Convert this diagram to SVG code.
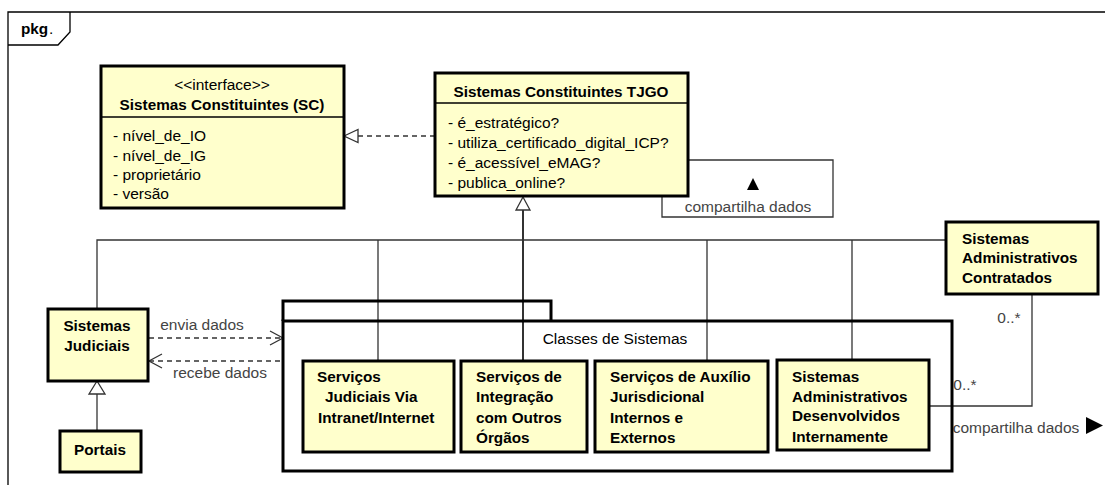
<svg xmlns="http://www.w3.org/2000/svg" width="1105" height="485" viewBox="0 0 1105 485">
<style>
text{font-family:"Liberation Sans",Arial,sans-serif;font-size:15.5px;fill:#000}
.b{font-weight:bold;font-size:15.3px}
.lbl{fill:#444}
.box{fill:#FFFFCC;stroke:#000;stroke-width:3}
.ln{fill:none;stroke:#333;stroke-width:1.3}
.dash{fill:none;stroke:#333;stroke-width:1.3;stroke-dasharray:5,4}
.c{text-anchor:middle}
</style>
<rect width="1105" height="485" fill="#fff"/>
<g id="frame">
<path d="M8,485 V12 H1105" fill="none" stroke="#000" stroke-width="1.3"/>
<path d="M8,45 H58 L70,32 V12" fill="none" stroke="#000" stroke-width="1.3"/>
<text x="21" y="34" class="b">pkg</text><text x="49" y="34" fill="#555" font-size="11">.</text>
</g>
<g id="connectors">
<path class="dash" d="M358,136 H435"/>
<path d="M344,136 L358,129.5 L358,142.5 Z" fill="#fff" stroke="#333" stroke-width="1.3"/>
<path class="ln" d="M688,160 H833 V217 H662 V196"/>
<path d="M753,178 L747,190 L759,190 Z" fill="#000"/>
<text x="748" y="212" class="c lbl">compartilha dados</text>
<path d="M523,210 V360" fill="none" stroke="#333" stroke-width="2"/>
<path d="M523,197 L516,210 L530,210 Z" fill="#fff" stroke="#333" stroke-width="1.3"/>
<path class="ln" d="M97,309 V240 H946"/>
<path class="ln" d="M378,240 V361 M707,240 V361 M852,240 V360"/>
<path class="ln" d="M97,394 V431"/>
<path d="M97,381 L89,394 L105,394 Z" fill="#fff" stroke="#333" stroke-width="1.3"/>
<path class="dash" d="M149,338 H282"/>
<path class="ln" d="M270,331 L283,338 L270,345"/>
<text x="202" y="330" class="c lbl">envia dados</text>
<path class="dash" d="M149,361 H283"/>
<path class="ln" d="M162,354 L149,361 L162,368"/>
<text x="220" y="378" class="c lbl">recebe dados</text>
<path class="ln" d="M929,406 H1032 V294"/>
<text x="1009" y="323" class="c lbl">0..*</text>
<text x="965" y="390" class="c lbl">0..*</text>
<text x="1016" y="433" class="c lbl">compartilha dados</text>
<path d="M1086,417 L1103,425.5 L1086,434 Z" fill="#000"/>
</g>
<g id="sc">
<rect class="box" x="101" y="66" width="243" height="142"/>
<path d="M101,117 H344" stroke="#000" stroke-width="1.3"/>
<text x="222" y="90" class="c" fill="#222">&lt;&lt;interface&gt;&gt;</text>
<text x="222" y="110" class="c b">Sistemas Constituintes (SC)</text>
<text x="113" y="141">- nível_de_IO</text>
<text x="113" y="161">- nível_de_IG</text>
<text x="113" y="180">- proprietário</text>
<text x="113" y="199">- versão</text>
</g>
<g id="tjgo">
<rect class="box" x="435" y="73" width="253" height="123"/>
<path d="M435,103 H688" stroke="#000" stroke-width="1.3"/>
<text x="561" y="97" class="c b">Sistemas Constituintes TJGO</text>
<text x="448" y="128">- é_estratégico?</text>
<text x="448" y="148">- utiliza_certificado_digital_ICP?</text>
<text x="448" y="168">- é_acessível_eMAG?</text>
<text x="448" y="188">- publica_online?</text>
</g>
<g id="judiciais">
<rect class="box" x="48" y="309" width="100" height="72"/>
<text x="97" y="331" class="c b">Sistemas</text>
<text x="97" y="351" class="c b">Judiciais</text>
</g>
<g id="portais">
<rect class="box" x="60" y="431" width="81" height="41"/>
<text x="100" y="455" class="c b">Portais</text>
</g>
<g id="classes">
<path d="M283,321 V301 H551 V321" fill="none" stroke="#000" stroke-width="3"/>
<rect x="283" y="321" width="669" height="150" fill="none" stroke="#000" stroke-width="3"/>
<text x="615" y="344" class="c">Classes de Sistemas</text>
</g>
<g id="srv-judiciais">
<rect class="box" x="303" y="361" width="151" height="91"/>
<text x="317" y="382" class="b">Serviços</text>
<text x="325" y="402" class="b">Judiciais Via</text>
<text x="318" y="423" class="b">Intranet/Internet</text>
</g>
<g id="srv-integracao">
<rect class="box" x="461" y="361" width="126" height="91"/>
<text x="476" y="382" class="b">Serviços de</text>
<text x="476" y="402" class="b">Integração</text>
<text x="476" y="423" class="b">com Outros</text>
<text x="476" y="443" class="b">Órgãos</text>
</g>
<g id="srv-auxilio">
<rect class="box" x="595" y="361" width="173" height="91"/>
<text x="610" y="382" class="b">Serviços de Auxílio</text>
<text x="610" y="402" class="b">Jurisdicional</text>
<text x="610" y="423" class="b">Internos e</text>
<text x="610" y="443" class="b">Externos</text>
</g>
<g id="adm-desenvolvidos">
<rect class="box" x="777" y="360" width="152" height="90"/>
<text x="792" y="382" class="b">Sistemas</text>
<text x="792" y="402" class="b">Administrativos</text>
<text x="792" y="421" class="b">Desenvolvidos</text>
<text x="792" y="442" class="b">Internamente</text>
</g>
<g id="adm-contratados">
<rect class="box" x="946" y="222" width="152" height="72"/>
<text x="962" y="244" class="b">Sistemas</text>
<text x="962" y="263" class="b">Administrativos</text>
<text x="962" y="283" class="b">Contratados</text>
</g>
</svg>
